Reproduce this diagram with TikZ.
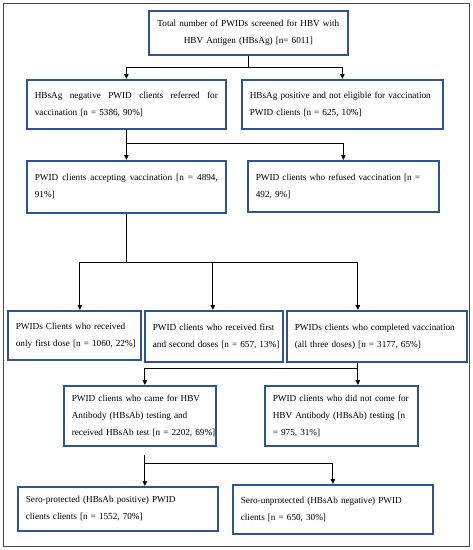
\documentclass[tikz,border=0pt]{standalone}
\usepackage{fontspec}
\setmainfont{Liberation Serif}
\usetikzlibrary{arrows.meta,calc}
\definecolor{boxblue}{RGB}{46,84,150}
\definecolor{framegray}{RGB}{70,70,70}
\newcommand{\txl}[1]{\mbox{#1}}
\newcommand{\jxl}[2]{\hbox to #1{#2}}
\begin{document}
\begin{tikzpicture}[x=1pt,y=-1pt,
  fbox/.style={draw=boxblue,line width=1.7pt,inner xsep=8pt,inner ysep=0pt,
    text width=#1,align=left,font=\fontsize{9.2}{17}\selectfont,anchor=north west},
  conn/.style={draw=black,line width=0.9pt},
  arr/.style={conn,-{Triangle[length=5pt,width=4.5pt]}}]
\useasboundingbox (0,0) rectangle (473,550);
\draw[framegray,line width=1pt] (3,3) rectangle (469,546);
% boxes
\node[fbox=183pt,align=center,minimum height=44pt] (top) at (148,10)
  {\txl{Total number of PWIDs screened for HBV with}\\\txl{HBV Antigen (HBsAg) [n= 6011]}};
\node[fbox=183pt,minimum height=49pt] (neg) at (26,79)
  {\jxl{183pt}{HBsAg\hfil negative\hfil PWID\hfil clients\hfil referred\hfil for}\\\txl{vaccination [n = 5386, 90\%]}};
\node[fbox=185pt,minimum height=49pt] (pos) at (241,79)
  {\txl{HBsAg positive and not eligible for vaccination}\\\txl{PWID clients [n = 625, 10\%]}};
\node[fbox=183pt,minimum height=52pt] (acc) at (26,160)
  {\jxl{183pt}{PWID\hfil clients\hfil accepting\hfil vaccination\hfil [n\hfil =\hfil 4894,}\\\txl{91\%]}};
\node[fbox=175pt,minimum height=51pt] (ref) at (247,160)
  {\txl{PWID clients who refused vaccination [n =}\\\txl{492, 9\%]}};
\node[fbox=117pt,minimum height=49pt] (d1) at (7,310)
  {\txl{PWIDs Clients who received}\\\txl{only first dose [n = 1060, 22\%]}};
\node[fbox=122pt,minimum height=51pt] (d2) at (144,310)
  {\txl{PWID clients who received first}\\\txl{and second doses [n = 657, 13\%]}};
\node[fbox=164pt,minimum height=51pt] (d3) at (286,310)
  {\txl{PWIDs clients who completed vaccination}\\\txl{(all three doses) [n = 3177, 65\%]}};
\node[fbox=136pt,minimum height=60pt] (came) at (63,385)
  {\txl{PWID clients who came for HBV}\\\txl{Antibody (HBsAb) testing and}\\\txl{received HBsAb test [n = 2202, 69\%]}};
\node[fbox=137pt,minimum height=60pt] (notc) at (264,385)
  {\txl{PWID clients who did not come for}\\\txl{HBV Antibody (HBsAb) testing [n}\\\txl{= 975, 31\%]}};
\node[fbox=184pt,minimum height=44pt] (prot) at (17,486)
  {\txl{Sero-protected (HBsAb positive) PWID}\\\txl{clients clients [n = 1552, 70\%]}};
\node[fbox=184pt,minimum height=49pt] (unp) at (232,484)
  {\txl{Sero-unprotected (HBsAb negative) PWID}\\\txl{clients [n = 650, 30\%]}};
% connectors
\coordinate (j1) at ($(top.south)+(0,12)$);
\draw[conn] (top.south) -- (j1);
\draw[arr] (j1) -| (neg.north);
\draw[arr] (j1) -| (pos.north);
\coordinate (j2) at ($(neg.south)+(0,14)$);
\draw[conn] (neg.south) -- (j2);
\draw[arr] (j2) -| (acc.north);
\draw[arr] (j2) -| (ref.north);
\coordinate (j3) at ($(acc.south)+(0,49)$);
\draw[conn] (acc.south) -- (j3);
\draw[arr] (j3) -| ([xshift=5.5pt]d1.north);
\draw[arr] (j3) -| ([xshift=-1pt]d2.north);
\draw[arr] (j3) -| ([xshift=-19pt]d3.north);
\coordinate (s3) at ([xshift=-19pt]d3.south);
\coordinate (j4) at ($(s3)+(0,6)$);
\draw[conn] (s3) -- (j4);
\draw[arr] (j4) -| ([xshift=5pt]came.north);
\draw[arr] (j4) -| ([xshift=16.5pt]notc.north);
\coordinate (s4) at ([xshift=5pt,yshift=-8pt]came.south);
\coordinate (j5) at ($(came.south)+(5,17)$);
\draw[conn] (s4) -- (j5);
\draw[arr] (j5) -| ([xshift=27pt]prot.north);
\draw[arr] (j5) -| (unp.north);
\end{tikzpicture}
\end{document}
